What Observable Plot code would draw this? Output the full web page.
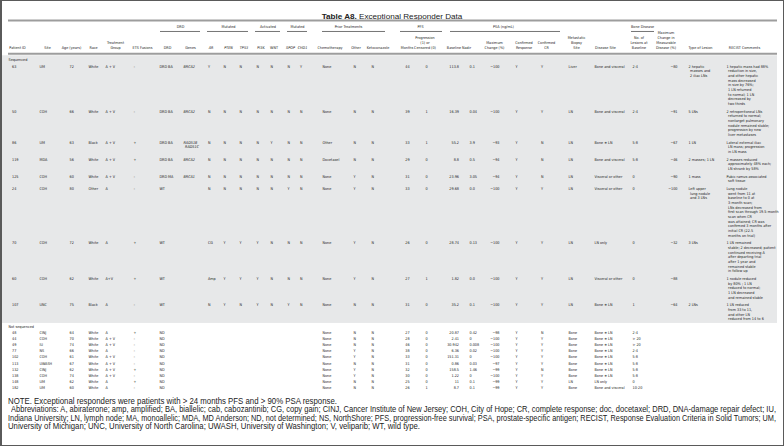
<!DOCTYPE html>
<html>
<head>
<meta charset="utf-8">
<script src="https://cdn.jsdelivr.net/npm/d3@7"></script>
<script src="https://cdn.jsdelivr.net/npm/@observablehq/plot@0.6"></script>
<style>
  html, body { margin: 0; padding: 0; background: #fff; }
  #page { position: relative; width: 784px; height: 446px; overflow: hidden; background: #fff; }
  #frame { position: absolute; left: 0; top: 0; width: 784px; height: 446px; box-sizing: border-box;
           border: 1px solid #5a5a5a; border-left-width: 2px; pointer-events: none; z-index: 5; }
  #title { position: absolute; left: 0; top: 8px; width: 784px; text-align: center; line-height: 12px;
           font-family: "Liberation Sans", Arial, Helvetica, sans-serif; color: #222; white-space: nowrap; }
  #title span.t { font-size: 8.5px; }
  #title b { font-weight: bold; }
  #chart { position: absolute; left: 0; top: 18px; }
  #foot { position: absolute; left: 0; top: 394.5px; width: 784px; color: #222;
          font-family: "Liberation Sans Narrow", "Arial Narrow", "Liberation Sans", Arial, sans-serif; }
  #foot div { position: absolute; white-space: nowrap; line-height: 8.6px; height: 8.6px; }
  #foot span { display: inline-block; font-size: 8.2px; transform-origin: 0 50%; }
</style>
</head>
<body>
<div id="page">
  <div id="title"><span class="t"><b>Table A8.</b> Exceptional Responder Data</span></div>
  <div id="chart"></div>
  <div id="foot"></div>
  <div id="frame"></div>
</div>
<script>
// ---------------- DATA ----------------
const patientId = ["63","50","86","119","125","24","70","60","107","48","44","49","77","102","113","132","138","148","182"];
const sequenced = [true,true,true,true,true,true,true,true,true,false,false,false,false,false,false,false,false,false,false];
const site = ["UM","COH","UM","MDA","COH","COH","COH","COH","UNC","CINJ","COH","IU","NS","COH","UWASH","CINJ","COH","UM","UM"];
const age = [72,66,63,56,60,80,72,62,75,64,70,74,66,61,67,62,74,62,60];
const race = ["White","White","Black","White","White","Other","White","White","Black","White","White","White","White","White","White","White","White","White","White"];
const treatmentGroup = ["A + V","A + V","A + V","A + V","A + V","A","A","A+V","A","A","A + V","A + V","A","A + V","A + V","A + V","A + V","A","A"];
const etsFusions = ["–","–","+","+","–","–","+","+","–","+","–","–","–","–","–","+","–","+","–"];
const drdStatus = ["DRD BA","DRD BA","DRD BA","DRD BA","DRD MA","WT","WT","WT","WT","ND","ND","ND","ND","ND","ND","ND","ND","ND","ND"];
const drdGenes = [["BRCA2"],["BRCA2"],["RAD51B","RAD51C"],["BRCA2"],["BRCA1"],[],[],[],[],[],[],[],[],[],[],[],[],[],[]];
const arStatus   = ["Y","N","N","N","N","N","CG","Amp","N","","","","","","","","","",""];
const ptenStatus = ["N","N","N","N","N","N","Y","Y","Y","","","","","","","","","",""];
const tp53Status = ["N","N","N","N","N","N","Y","Y","N","","","","","","","","","",""];
const pi3kStatus = ["N","N","N","N","N","N","Y","Y","Y","","","","","","","","","",""];
const wntStatus  = ["N","N","Y","N","N","N","N","N","N","","","","","","","","","",""];
const spopStatus = ["N","N","N","N","N","Y","N","N","Y","","","","","","","","","",""];
const chd1Status = ["Y","N","N","N","N","N","N","N","N","","","","","","","","","",""];
const priorChemo = ["None","None","Other","Docetaxel","None","None","None","None","None","None","None","None","None","None","None","None","None","None","None"];
const priorOther = ["N","N","N","N","Y","Y","Y","Y","N","N","N","N","Y","Y","N","Y","Y","N","N"];
const priorKeto  = ["N","N","N","N","N","N","N","N","N","N","N","N","N","N","N","N","N","N","N"];
const pfsMonths = [44,39,33,29,31,33,26,27,31,27,28,46,38,33,31,32,30,25,26];
const pfsProgression = [0,1,1,0,0,0,0,1,0,0,0,0,0,0,0,0,0,0,1];
const psaBaseline = ["113.8","16.39","55.2","8.8","23.96","29.68","28.74","1.82","35.2","20.87","2.41","30.942","6.36","151.31","0.86","158.5","1.22","11","8.7"];
const psaNadir = ["0.1","0.04","3.9","0.5","3.05","0.0","0.13","0.0","0.1","0.42","0","0.008","0.02","0","0.03","1.46","0","0.1","0.1"];
const psaMaxChange = [-100,-100,-93,-94,-94,-100,-100,-100,-100,-98,-100,-100,-100,-100,-97,-99,-100,-99,-99];
const confirmedResponse = ["Y","Y","Y","Y","Y","Y","Y","Y","Y","Y","Y","Y","Y","Y","Y","Y","Y","Y","Y"];
const confirmedCR = ["Y","Y","N","N","N","Y","Y","Y","Y","N","Y","Y","Y","Y","Y","N","Y","Y","Y"];
const biopsySite = ["Liver","LN","LN","LN","LN","LN","LN","LN","LN","Bone","Bone","Bone","Bone","Bone","Bone","Bone","Bone","LN","Bone"];
const diseaseSite = ["Bone and visceral","Bone and visceral","Bone ± LN","Bone and visceral","Visceral or other","Visceral or other","LN only","Visceral or other","Bone ± LN","Bone ± LN","Bone ± LN","Bone ± LN","Bone ± LN","Bone ± LN","Bone ± LN","Bone ± LN","Bone ± LN","LN only","Bone and visceral"];
const lesionsAtBaseline = ["2-4","2-4","5-8","5-8","0","0","0","0","1","2-4","> 20","> 20","2-4","5-8","5-8","5-8","5-8","0","10-20"];
const measurableChange = [-80,-91,-67,-46,-90,-100,-32,-88,-64,null,null,null,null,null,null,null,null,null,null];
const lesionType = [["2 hepatic","masses and","2 iliac LNs"],["5 LNs"],["1 LN"],["2 masses; 1 LN"],["1 mass"],["Left upper","lung nodule","and 3 LNs"],["3 LNs"],[],["2 LNs"],[],[],[],[],[],[],[],[],[],[]];
const recistComments = [
  ["1 hepatic mass had 88%","reduction in size,","and other hepatic","mass decreased","in size by 76%;","1 LN returned","to normal; 1 LN","decreased by","two thirds"],
  ["2 retroperitoneal LNs","returned to normal;","nontarget pulmonary","nodule remained stable;","progression by new","liver metastases"],
  ["Lateral external iliac","LN mass; progression","in LN mass"],
  ["2 masses reduced","approximately 48% each;","LN shrank by 58%"],
  ["Pubic ramus-associated","soft tissue"],
  ["Lung nodule","went from 11 at","baseline to 0 at","3-month scan;","LNs decreased from","first scan through 19.5-month","scan when CR","was attained; CR was","confirmed 3 months after","initial CR (22.5","months on trial)"],
  ["1 LN remained","stable; 2 decreased; patient","continued receiving A","after departing trial","after 1 year and","remained stable","in follow up"],
  ["1 nodule reduced","by 80% ; 1 LN","reduced to normal;","1 LN decreased","and remained stable"],
  ["1 LN reduced","from 33 to 11,","and other LN","reduced from 14 to 6"],
  [],[],[],[],[],[],[],[],[],[]
];
const sectionLabels = ["Sequenced", "Not sequenced"];
const groupHeaders = ["DRD","Mutated","Activated","Mutated","Prior Treatments","PFS","PSA (ng/mL)","Bone Disease"];
const footNote = "NOTE. Exceptional responders were patients with > 24 months PFS and > 90% PSA response.";
const footAbbrev = [
  "Abbreviations: A, abiraterone; amp, amplified; BA, biallelic; cab, cabozantinib; CG, copy gain; CINJ, Cancer Institute of New Jersey; COH, City of Hope; CR, complete response; doc, docetaxel; DRD, DNA-damage repair defect; IU,",
  "Indiana University; LN, lymph node; MA, monoallelic; MDA, MD Anderson; ND, not determined; NS, NorthShore; PFS, progression-free survival; PSA, prostate-specific antigen; RECIST, Response Evaluation Criteria in Solid Tumors; UM,",
  "University of Michigan; UNC, University of North Carolina; UWASH, University of Washington; V, veliparib; WT, wild type."
];

// ---------------- LAYOUT (column anchors, header centres) ----------------
const minus = v => v == null ? "" : String(v).replace("-", "\u2212");
const columns = [
  {values: patientId, header: ["Patient ID"], x: 11.5, hx: 17, anchor: "start"},
  {values: site, header: ["Site"], x: 39, hx: 47, anchor: "start"},
  {values: age, header: ["Age (years)"], x: 69, hx: 71, anchor: "start"},
  {values: race, header: ["Race"], x: 88, hx: 93, anchor: "start"},
  {values: treatmentGroup, header: ["Treatment","Group"], x: 105, hx: 115, anchor: "start"},
  {values: etsFusions, header: ["ETS Fusions"], x: 133, hx: 142, anchor: "start"},
  {values: drdStatus, header: ["DRD"], x: 159, hx: 167, anchor: "start"},
  {values: drdGenes, header: ["Genes"], x: 183, hx: 190, anchor: "start", italic: true},
  {values: arStatus, header: ["AR"], x: 207.5, hx: 210.5, anchor: "start", hitalic: true},
  {values: ptenStatus, header: ["PTEN"], x: 223, hx: 228, anchor: "start", hitalic: true},
  {values: tp53Status, header: ["TP53"], x: 239, hx: 243.5, anchor: "start", hitalic: true},
  {values: pi3kStatus, header: ["PI3K"], x: 256, hx: 260.5, anchor: "start"},
  {values: wntStatus, header: ["WNT"], x: 270, hx: 273.5, anchor: "start"},
  {values: spopStatus, header: ["SPOP"], x: 287, hx: 290, anchor: "start", hitalic: true},
  {values: chd1Status, header: ["CHD1"], x: 299.5, hx: 302, anchor: "start", hitalic: true},
  {values: priorChemo, header: ["Chemotherapy"], x: 322, hx: 329.5, anchor: "start"},
  {values: priorOther, header: ["Other"], x: 353, hx: 355.5, anchor: "start"},
  {values: priorKeto, header: ["Ketoconazole"], x: 371, hx: 377.5, anchor: "start"},
  {values: pfsMonths, header: ["Months"], x: 407, hx: 406.5, anchor: "middle"},
  {values: pfsProgression, header: ["Progression","(1) or","Censored (0)"], x: 426, hx: 424.5, anchor: "middle"},
  {values: psaBaseline, header: ["Baseline"], x: 458.5, hx: 453.5, anchor: "end"},
  {values: psaNadir, header: ["Nadir"], x: 469, hx: 466, anchor: "start"},
  {values: psaMaxChange.map(minus), header: ["Maximum","Change (%)"], x: 499, hx: 494, anchor: "end"},
  {values: confirmedResponse, header: ["Confirmed","Response"], x: 515, hx: 523.5, anchor: "start"},
  {values: confirmedCR, header: ["Confirmed","CR"], x: 540.5, hx: 546, anchor: "start"},
  {values: biopsySite, header: ["Metastatic","Biopsy","Site"], x: 568, hx: 576, anchor: "start"},
  {values: diseaseSite, header: ["Disease Site"], x: 594, hx: 605, anchor: "start"},
  {values: lesionsAtBaseline, header: ["No. of","Lesions at","Baseline"], x: 632, hx: 638.5, anchor: "start"},
  {values: measurableChange.map(minus), header: ["Maximum","Change in","Measurable","Disease (%)"], x: 677, hx: 665.5, anchor: "end"},
  {values: lesionType, header: ["Type of Lesion"], x: 688, hx: 700, anchor: "start"},
  {values: recistComments, header: ["RECIST Comments"], x: 726, hx: 744, anchor: "start"}
];
const groupLayout = [ // label centre and underline extent
  {cx: 180, x1: 160, x2: 200}, {cx: 228, x1: 207, x2: 248}, {cx: 267.5, x1: 255, x2: 280},
  {cx: 297, x1: 287, x2: 307}, {cx: 348, x1: 322, x2: 385}, {cx: 420, x1: 400, x2: 442},
  {cx: 503, x1: 450, x2: 560}, {cx: 642, x1: 631, x2: 654}
];

// vertical layout in "text line" units (one line of body text = 1 unit)
const LINE_PX = 4.67, SVG_H = 376, ORIGIN_PX = 48;
const TOP_RULE = -9.85, GROUP_LABEL = -8.57, GROUP_LINE = -7.5, HEAD_BOTTOM = -3.92, HEAD_STEP = 1.07;
const HEAD_RULE = -2.72, BAND_TOP = -2.3, SEQ_LABEL = -1.5, ROW_GAP = 0.64, NONSEQ_STEP = 1.33;
const INDENT = 1.6;

const nLines = v => Array.isArray(v) ? v.length : 1;
const rowY = [];
let cursor = 0;
patientId.forEach((_, i) => {
  if (!sequenced[i]) return;
  rowY[i] = cursor;
  const lines = d3.max(columns, c => nLines(c.values[i]));
  cursor += lines + ROW_GAP;
});
const bandBottom = cursor - ROW_GAP - 0.1;
const nonSeqLabelY = bandBottom + 0.75;
let k = 0;
patientId.forEach((_, i) => {
  if (sequenced[i]) return;
  rowY[i] = bandBottom + 1.9 + (k++) * NONSEQ_STEP;
});

// expand cells into individual text lines
const cells = [];
columns.forEach(c => {
  c.values.forEach((v, i) => {
    const lines = Array.isArray(v) ? v : (v == null || v === "" ? [] : [String(v)]);
    lines.forEach((t, j) => cells.push({
      x: c.x + (j > 0 ? INDENT : 0), y: rowY[i] + j, text: t, anchor: c.anchor, italic: !!c.italic
    }));
  });
});
const headers = [];
columns.forEach(c => c.header.forEach((t, j) => headers.push({
  x: c.hx, y: HEAD_BOTTOM - (c.header.length - 1 - j) * HEAD_STEP, text: t, italic: !!c.hitalic
})));
const groups = groupHeaders.map((label, i) => ({label, ...groupLayout[i], y: GROUP_LABEL, ly: GROUP_LINE}));
const sections = [{text: sectionLabels[0], y: SEQ_LABEL}, {text: sectionLabels[1], y: nonSeqLabelY}];

const FONT = '"Liberation Sans Narrow","Arial Narrow","DejaVu Sans Condensed",sans-serif';
const FS = 3.75, INK = "#1a1a1a";
const txt = (data, opts) => Plot.text(data, {x: "x", y: "y", text: "text", fontSize: FS, fill: INK, ...opts});

const chart = Plot.plot({
  width: 784, height: SVG_H, margin: 0,
  x: {type: "linear", domain: [0, 784], range: [0, 784], axis: null},
  y: {type: "linear", domain: [-ORIGIN_PX / LINE_PX, (SVG_H - ORIGIN_PX) / LINE_PX], range: [0, SVG_H], axis: null},
  style: {fontFamily: FONT, background: "transparent"},
  marks: [
    Plot.rect([{x1: 2, x2: 777, y1: BAND_TOP, y2: bandBottom}], {x1: "x1", x2: "x2", y1: "y1", y2: "y2", fill: "#e7e8e9"}),
    Plot.ruleY([TOP_RULE, HEAD_RULE], {x1: 8, x2: 777, stroke: "#9d9d9d", strokeWidth: 2}),
    Plot.ruleY(groups, {y: "ly", x1: "x1", x2: "x2", stroke: "#3a3a3a", strokeWidth: 0.7}),
    txt(groups, {x: "cx", text: "label", textAnchor: "middle"}),
    txt(headers.filter(d => !d.italic), {textAnchor: "middle"}),
    txt(headers.filter(d => d.italic), {textAnchor: "middle", fontStyle: "italic"}),
    txt(sections, {x: () => 8, textAnchor: "start"}),
    txt(cells.filter(d => d.anchor === "start" && !d.italic), {textAnchor: "start"}),
    txt(cells.filter(d => d.anchor === "start" && d.italic), {textAnchor: "start", fontStyle: "italic"}),
    txt(cells.filter(d => d.anchor === "middle"), {textAnchor: "middle"}),
    txt(cells.filter(d => d.anchor === "end"), {textAnchor: "end"})
  ]
});
document.getElementById("chart").appendChild(chart);

// footer: each line is scaled horizontally to the width it spans in the reference
const foot = document.getElementById("foot");
const footLines = [
  {t: footNote, x: 8, w: 329},
  {t: footAbbrev[0], x: 10.5, w: 765},
  {t: footAbbrev[1], x: 8, w: 768},
  {t: footAbbrev[2], x: 8, w: 412}
];
footLines.forEach((l, i) => {
  const d = document.createElement("div");
  d.style.left = l.x + "px"; d.style.top = (i * 8.6) + "px";
  const s = document.createElement("span"); s.textContent = l.t;
  d.appendChild(s); foot.appendChild(d);
  const w = s.getBoundingClientRect().width;
  s.style.transform = `scaleX(${l.w / w})`;
});
// fit title width
const ts = document.querySelector("#title span.t");
const tw = ts.getBoundingClientRect().width;
ts.style.fontSize = (8.5 * 141 / tw) + "px";
</script>
</body>
</html>
